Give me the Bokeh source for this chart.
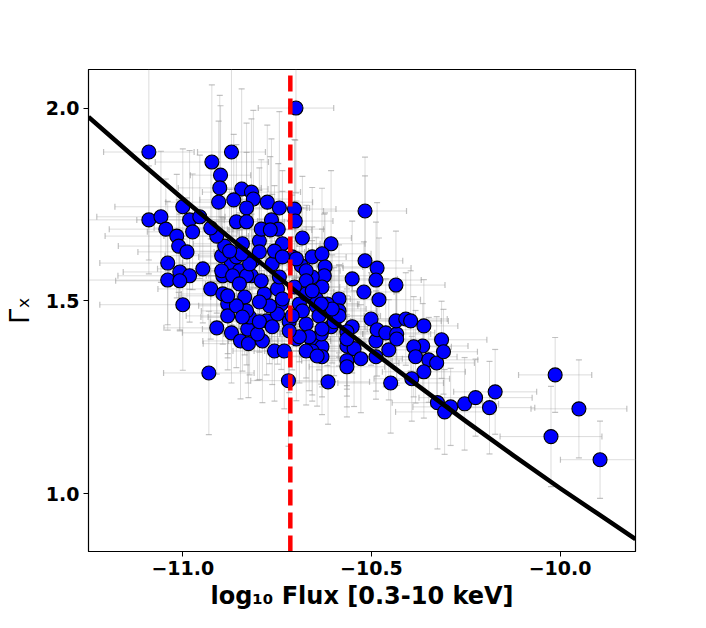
from bokeh.plotting import figure
from bokeh.models import (ColumnDataSource, Whisker, TeeHead, Range1d,
                          FixedTicker, CustomJSTickFormatter)
from bokeh.embed import file_html
from bokeh.resources import INLINE

# log10 flux of each source
flux = [
    -10.70, -11.09, -10.871, -10.923, -10.900, -10.902, -10.905, -10.844, -10.818, -10.813,
    -10.865, -10.831, -10.776, -10.744, -10.704, -10.702, -10.683, -10.607, -11.000, -11.090,
    -11.058, -11.045, -11.016, -10.982, -10.974, -11.011, -10.989, -11.040, -11.040, -11.008,
    -10.982, -10.947, -11.000, -10.926, -10.894, -10.871, -10.858, -10.831, -10.765, -10.747,
    -10.736, -10.710, -10.686, -10.657, -10.631, -10.623, -10.625, -10.631, -10.657, -10.673,
    -10.551, -10.586, -10.617, -10.646, -10.691, -10.739, -10.784, -10.818, -10.850, -10.894,
    -10.881, -10.836, -10.792, -10.763, -10.815, -10.797, -10.842, -10.858, -10.897, -10.889,
    -10.910, -10.792, -10.768, -11.008, -10.931, -10.910, -10.881, -10.871, -10.847, -10.826,
    -10.789, -10.757, -10.731, -10.720, -10.828, -10.802, -10.823, -10.778, -10.749, -10.718,
    -10.699, -10.657, -10.631, -10.631, -10.673, -10.683, -10.770, -10.797, -10.831, -10.858,
    -10.881, -10.897, -10.868, -10.831, -10.823, -10.850, -10.749, -10.736, -10.744, -10.757,
    -10.797, -10.844, -10.876, -10.736, -10.699, -10.673, -10.646, -10.673, -10.704, -10.517,
    -10.517, -10.485, -10.488, -10.435, -10.520, -10.480, -10.586, -10.639, -10.607, -10.633,
    -10.665, -10.691, -10.657, -10.551, -10.565, -10.565, -10.546, -10.565, -10.565, -10.528,
    -10.501, -10.488, -10.488, -10.485, -10.462, -10.433, -10.454, -10.435, -10.409, -10.396,
    -10.361, -10.364, -10.388, -10.383, -10.348, -10.327, -10.314, -10.309, -10.361, -10.393,
    -10.449, -10.615, -10.325, -10.290, -10.306, -10.253, -10.224, -10.172, -10.187, -10.013,
    -9.950, -10.024, -9.894, -10.433, -10.565, -10.673, -10.644, -10.631, -10.599, -10.586,
    -10.604, -10.633, -10.657, -10.842, -10.797, -10.710, -10.718, -10.763, -10.926, -10.955,
]

# photon index of each source
gamma = [
    2.000, 1.886, 1.886, 1.860, 1.826, 1.793, 1.756, 1.790, 1.782, 1.764,
    1.762, 1.741, 1.756, 1.741, 1.738, 1.707, 1.663, 1.648, 1.744, 1.710,
    1.718, 1.686, 1.668, 1.710, 1.679, 1.642, 1.627, 1.598, 1.554, 1.575,
    1.565, 1.583, 1.490, 1.531, 1.565, 1.598, 1.705, 1.705, 1.710, 1.686,
    1.648, 1.614, 1.591, 1.614, 1.622, 1.588, 1.565, 1.536, 1.562, 1.578,
    1.557, 1.505, 1.492, 1.487, 1.492, 1.492, 1.518, 1.565, 1.578, 1.518,
    1.492, 1.510, 1.552, 1.596, 1.604, 1.655, 1.648, 1.614, 1.617, 1.642,
    1.668, 1.686, 1.684, 1.552, 1.313, 1.430, 1.461, 1.417, 1.396, 1.389,
    1.396, 1.370, 1.370, 1.293, 1.427, 1.414, 1.458, 1.448, 1.466, 1.446,
    1.401, 1.396, 1.381, 1.355, 1.440, 1.474, 1.487, 1.497, 1.474, 1.487,
    1.513, 1.578, 1.565, 1.565, 1.596, 1.544, 1.531, 1.505, 1.562, 1.629,
    1.627, 1.622, 1.629, 1.614, 1.609, 1.552, 1.505, 1.518, 1.536, 1.733,
    1.604, 1.585, 1.554, 1.541, 1.523, 1.503, 1.474, 1.461, 1.433, 1.414,
    1.407, 1.407, 1.370, 1.433, 1.420, 1.383, 1.376, 1.345, 1.329, 1.350,
    1.453, 1.396, 1.355, 1.425, 1.417, 1.414, 1.373, 1.448, 1.453, 1.448,
    1.435, 1.383, 1.381, 1.355, 1.347, 1.339, 1.399, 1.368, 1.316, 1.298,
    1.287, 1.290, 1.236, 1.225, 1.212, 1.233, 1.249, 1.264, 1.223, 1.308,
    1.220, 1.148, 1.088, 1.401, 1.401, 1.370, 1.357, 1.427, 1.446, 1.461,
    1.479, 1.492, 1.526, 1.458, 1.446, 1.461, 1.422, 1.433, 1.689, 1.718,
]

flux_err = [
    0.10, 0.12, 0.09, 0.15, 0.08, 0.11, 0.14, 0.07, 0.13, 0.10,
    0.09, 0.16, 0.12, 0.08, 0.11, 0.10, 0.13, 0.09, 0.18, 0.20,
    0.17, 0.15, 0.19, 0.14, 0.12, 0.16, 0.13, 0.18, 0.21, 0.15,
    0.19, 0.12, 0.22, 0.14, 0.11, 0.13, 0.09, 0.10, 0.08, 0.12,
    0.10, 0.07, 0.11, 0.09, 0.13, 0.10, 0.12, 0.08, 0.11, 0.09,
    0.12, 0.10, 0.08, 0.11, 0.09, 0.13, 0.10, 0.12, 0.14, 0.11,
    0.13, 0.09, 0.10, 0.12, 0.08, 0.11, 0.13, 0.10, 0.15, 0.12,
    0.14, 0.09, 0.11, 0.17, 0.12, 0.14, 0.11, 0.13, 0.10, 0.12,
    0.09, 0.11, 0.08, 0.10, 0.12, 0.09, 0.11, 0.10, 0.08, 0.12,
    0.09, 0.11, 0.10, 0.13, 0.08, 0.10, 0.11, 0.09, 0.12, 0.10,
    0.13, 0.14, 0.11, 0.10, 0.12, 0.09, 0.08, 0.11, 0.10, 0.09,
    0.12, 0.13, 0.14, 0.10, 0.08, 0.11, 0.09, 0.10, 0.12, 0.11,
    0.10, 0.09, 0.12, 0.13, 0.08, 0.11, 0.10, 0.12, 0.09, 0.11,
    0.10, 0.13, 0.09, 0.12, 0.10, 0.11, 0.08, 0.12, 0.10, 0.11,
    0.09, 0.12, 0.10, 0.11, 0.13, 0.09, 0.10, 0.12, 0.11, 0.10,
    0.09, 0.12, 0.10, 0.11, 0.13, 0.10, 0.12, 0.09, 0.11, 0.10,
    0.14, 0.11, 0.12, 0.10, 0.13, 0.09, 0.15, 0.11, 0.12, 0.097,
    0.127, 0.135, 0.105, 0.10, 0.12, 0.11, 0.09, 0.12, 0.10, 0.11,
    0.09, 0.10, 0.12, 0.11, 0.13, 0.10, 0.12, 0.09, 0.15, 0.14,
]

gamma_err = [
    0.22, 0.28, 0.25, 0.20, 0.18, 0.24, 0.21, 0.26, 0.19, 0.23,
    0.17, 0.22, 0.20, 0.25, 0.18, 0.21, 0.16, 0.19, 0.15, 0.14,
    0.17, 0.13, 0.16, 0.18, 0.15, 0.12, 0.14, 0.16, 0.13, 0.15,
    0.12, 0.14, 0.17, 0.13, 0.15, 0.16, 0.20, 0.18, 0.21, 0.17,
    0.19, 0.16, 0.15, 0.18, 0.17, 0.14, 0.16, 0.15, 0.13, 0.17,
    0.15, 0.14, 0.16, 0.13, 0.15, 0.17, 0.14, 0.16, 0.15, 0.13,
    0.14, 0.15, 0.16, 0.18, 0.17, 0.19, 0.16, 0.15, 0.17, 0.18,
    0.20, 0.18, 0.19, 0.13, 0.16, 0.12, 0.14, 0.13, 0.15, 0.14,
    0.16, 0.13, 0.15, 0.17, 0.14, 0.12, 0.15, 0.14, 0.13, 0.15,
    0.16, 0.14, 0.13, 0.15, 0.14, 0.12, 0.15, 0.13, 0.14, 0.16,
    0.15, 0.14, 0.13, 0.15, 0.16, 0.14, 0.15, 0.13, 0.14, 0.17,
    0.16, 0.15, 0.16, 0.17, 0.15, 0.14, 0.16, 0.15, 0.13, 0.14,
    0.22, 0.17, 0.15, 0.14, 0.13, 0.16, 0.12, 0.14, 0.15, 0.13,
    0.14, 0.12, 0.13, 0.12, 0.14, 0.13, 0.15, 0.12, 0.13, 0.14,
    0.12, 0.13, 0.11, 0.12, 0.14, 0.12, 0.13, 0.11, 0.12, 0.13,
    0.12, 0.11, 0.13, 0.12, 0.11, 0.12, 0.10, 0.11, 0.12, 0.11,
    0.13, 0.11, 0.12, 0.10, 0.11, 0.12, 0.10, 0.11, 0.12, 0.097,
    0.127, 0.13, 0.10, 0.12, 0.13, 0.14, 0.13, 0.15, 0.14, 0.13,
    0.14, 0.15, 0.13, 0.14, 0.15, 0.14, 0.16, 0.15, 0.17, 0.16,
]

# best-fit relation
fit_x = [-11.25, -11.125, -11.0, -10.875, -10.75, -10.625, -10.5, -10.375,
         -10.25, -10.125, -10.0, -9.9, -9.8]
fit_y = [1.977, 1.870, 1.765, 1.663, 1.564, 1.466, 1.371, 1.279,
         1.188, 1.100, 1.014, 0.948, 0.882]

flux_cut = -10.715
x_lim = (-11.25, -9.8)
y_lim = (0.85, 2.1)
x_ticks = [-11.0, -10.5, -10.0]
y_ticks = [1.0, 1.5, 2.0]

src = ColumnDataSource(dict(
    x=flux, y=gamma,
    xl=[a - e for a, e in zip(flux, flux_err)],
    xu=[a + e for a, e in zip(flux, flux_err)],
    yl=[a - e for a, e in zip(gamma, gamma_err)],
    yu=[a + e for a, e in zip(gamma, gamma_err)],
))

p = figure(width=690, height=612, output_backend="svg", toolbar_location=None,
           x_range=Range1d(*x_lim), y_range=Range1d(*y_lim),
           min_border_left=88, min_border_right=55, min_border_top=69,
           min_border_bottom=60)
p.background_fill_color = "white"
p.border_fill_color = "white"
p.grid.visible = False
p.outline_line_color = "black"
p.outline_line_width = 1.2
p.outline_line_alpha = 1.0

err_col = "#9a9a9a"
for dim, base, lo, up in (("width", "y", "xl", "xu"), ("height", "x", "yl", "yu")):
    w = Whisker(source=src, base=base, lower=lo, upper=up, dimension=dim,
                line_color=err_col, line_alpha=0.35, line_width=1, level="underlay",
                upper_head=TeeHead(size=6, line_color=err_col, line_alpha=0.6, line_width=1.2),
                lower_head=TeeHead(size=6, line_color=err_col, line_alpha=0.6, line_width=1.2))
    p.add_layout(w)

p.scatter("x", "y", source=src, size=14, fill_color="#0000ff",
          line_color="black", line_width=1.1)

p.line(fit_x, fit_y, line_color="black", line_width=4.5, line_join="round")
p.segment(x0=[flux_cut], y0=[y_lim[0]], x1=[flux_cut], y1=[y_lim[1]],
          line_color="red", line_width=4.5, line_dash="16 7")

fmt = CustomJSTickFormatter(code="return tick.toFixed(1).replace('-', '\u2212');")
p.xaxis.ticker = FixedTicker(ticks=x_ticks)
p.yaxis.ticker = FixedTicker(ticks=y_ticks)
p.xaxis.formatter = fmt
p.yaxis.formatter = fmt

for ax in (p.xaxis, p.yaxis):
    ax.major_tick_out = 5
    ax.major_tick_in = 0
    ax.minor_tick_out = 0
    ax.minor_tick_in = 0
    ax.axis_line_color = "black"
    ax.major_tick_line_color = "black"
    ax.major_label_text_font = "DejaVu Sans"
    ax.major_label_text_font_style = "bold"
    ax.major_label_text_font_size = "19px"
    ax.major_label_text_color = "black"
    ax.major_label_standoff = 4
    ax.axis_label_text_font = "DejaVu Sans"
    ax.axis_label_text_color = "black"

p.xaxis.axis_label = "log\u2081\u2080 Flux [0.3-10 keV]"
p.xaxis.axis_label_text_font_style = "bold"
p.xaxis.axis_label_text_font_size = "24px"
p.xaxis.axis_label_standoff = 4

p.yaxis.axis_label = "\u0393\u2093"
p.yaxis.axis_label_text_font_style = "normal"
p.yaxis.axis_label_text_font_size = "27px"
p.yaxis.axis_label_standoff = 8

open("out.html", "w").write(file_html(p, INLINE))
